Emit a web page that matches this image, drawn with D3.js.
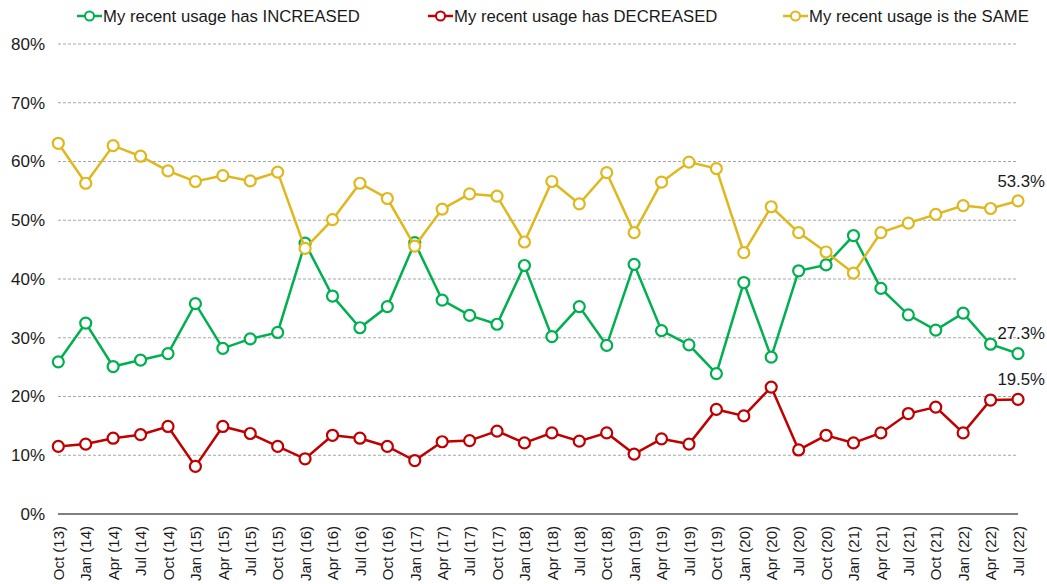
<!DOCTYPE html>
<html><head><meta charset="utf-8">
<script src="https://cdn.jsdelivr.net/npm/d3@7"></script>
<style>body{margin:0;background:#fff}svg{display:block;font-family:"Liberation Sans",Arial,sans-serif}</style>
</head><body><svg id="c" width="1047" height="584"></svg>
<script>
const categories = ["Oct (13)","Jan (14)","Apr (14)","Jul (14)","Oct (14)","Jan (15)","Apr (15)","Jul (15)","Oct (15)","Jan (16)","Apr (16)","Jul (16)","Oct (16)","Jan (17)","Apr (17)","Jul (17)","Oct (17)","Jan (18)","Apr (18)","Jul (18)","Oct (18)","Jan (19)","Apr (19)","Jul (19)","Oct (19)","Jan (20)","Apr (20)","Jul (20)","Oct (20)","Jan (21)","Apr (21)","Jul (21)","Oct (21)","Jan (22)","Apr (22)","Jul (22)"];
const increased = [25.9,32.5,25.1,26.2,27.3,35.8,28.2,29.8,30.9,46.1,37.1,31.7,35.3,46.2,36.4,33.8,32.3,42.3,30.2,35.3,28.7,42.5,31.2,28.8,23.9,39.4,26.7,41.4,42.4,47.4,38.4,33.9,31.3,34.2,28.9,27.3];
const decreased = [11.5,11.9,12.9,13.5,14.9,8.1,14.9,13.7,11.5,9.4,13.4,12.9,11.5,9.1,12.3,12.5,14.1,12.1,13.8,12.4,13.8,10.2,12.8,11.9,17.8,16.7,21.6,10.9,13.4,12.1,13.8,17.1,18.2,13.8,19.4,19.5];
const same = [63.1,56.3,62.7,60.9,58.4,56.6,57.6,56.7,58.2,45.2,50.1,56.3,53.7,45.6,51.9,54.5,54.1,46.3,56.6,52.8,58.1,47.9,56.5,59.9,58.8,44.5,52.3,47.9,44.6,41.0,47.9,49.5,51.0,52.5,52.0,53.3];
const yTicks = [0,10,20,30,40,50,60,70,80];
const seriesNames = ["My recent usage has INCREASED","My recent usage has DECREASED","My recent usage is the SAME"];
const seriesColors = ["#00b050","#c00000","#dfb81e"];

const svg = d3.select("#c");
const x = d3.scalePoint().domain(categories).range([58.3, 1018]);
const y = d3.scaleLinear().domain([0, 80]).range([514, 44]);

// gridlines
svg.append("g").selectAll("line").data(yTicks.filter(d => d > 0)).join("line")
  .attr("x1", 58).attr("x2", 1018)
  .attr("y1", d => y(d)).attr("y2", d => y(d))
  .attr("stroke", "#a6a6a6").attr("stroke-width", 1).attr("stroke-dasharray", "3,2");

// y axis labels
const yAxis = d3.axisLeft(y).tickValues(yTicks).tickFormat(d => d + "%").tickSize(0).tickPadding(0);
const ya = svg.append("g").attr("transform", "translate(45,0)").call(yAxis);
ya.select(".domain").remove();
ya.selectAll("text").attr("font-size", 17).attr("fill", "#1a1a1a").attr("font-family", "Liberation Sans, Arial, sans-serif");

// baseline
svg.append("line").attr("x1", 58).attr("x2", 1018).attr("y1", y(0)).attr("y2", y(0))
  .attr("stroke", "#000").attr("stroke-width", 1.2);

// x axis labels
const xAxis = d3.axisBottom(x).tickSize(0).tickPadding(0);
const xa = svg.append("g").attr("transform", `translate(0,${y(0)})`).call(xAxis);
xa.select(".domain").remove();
xa.selectAll("text")
  .attr("font-size", 15).attr("fill", "#1a1a1a").attr("font-family", "Liberation Sans, Arial, sans-serif")
  .attr("text-anchor", "end").attr("dy", "0.35em")
  .attr("transform", "translate(0,12) rotate(-90)")
  .attr("x", 0).attr("y", 0);

// series
const allSeries = [increased, decreased, same];
const line = d3.line().x((d, i) => x(categories[i])).y(d => y(d));
allSeries.forEach((vals, si) => {
  const g = svg.append("g");
  g.append("path").datum(vals).attr("d", line).attr("fill", "none")
    .attr("stroke", seriesColors[si]).attr("stroke-width", 2.5);
  g.selectAll("circle").data(vals).join("circle")
    .attr("cx", (d, i) => x(categories[i])).attr("cy", d => y(d)).attr("r", 5.5)
    .attr("fill", "#fff").attr("stroke", seriesColors[si]).attr("stroke-width", 2.2);
});

// end labels
const last = categories.length - 1;
const endLabels = [
  {v: same[last], dy: -20},
  {v: increased[last], dy: -20},
  {v: decreased[last], dy: -20}
];
svg.append("g").selectAll("text").data(endLabels).join("text")
  .attr("x", 1045).attr("y", d => y(d.v) + d.dy).attr("dy", "0.35em")
  .attr("text-anchor", "end").attr("font-size", 16.8).attr("fill", "#1a1a1a")
  .text(d => d.v.toFixed(1) + "%");

// legend
const legendX = [77, 428, 783];
const lg = svg.append("g");
seriesNames.forEach((n, i) => {
  const g = lg.append("g").attr("transform", `translate(${legendX[i]},16)`);
  g.append("line").attr("x1", 0).attr("x2", 25).attr("stroke", seriesColors[i]).attr("stroke-width", 2.5);
  g.append("circle").attr("cx", 12.5).attr("r", 4.5).attr("fill", "#fff").attr("stroke", seriesColors[i]).attr("stroke-width", 2);
  g.append("text").attr("x", 26).attr("dy", "0.35em").attr("font-size", 16.7).attr("fill", "#1a1a1a").text(n);
});
</script></body></html>
